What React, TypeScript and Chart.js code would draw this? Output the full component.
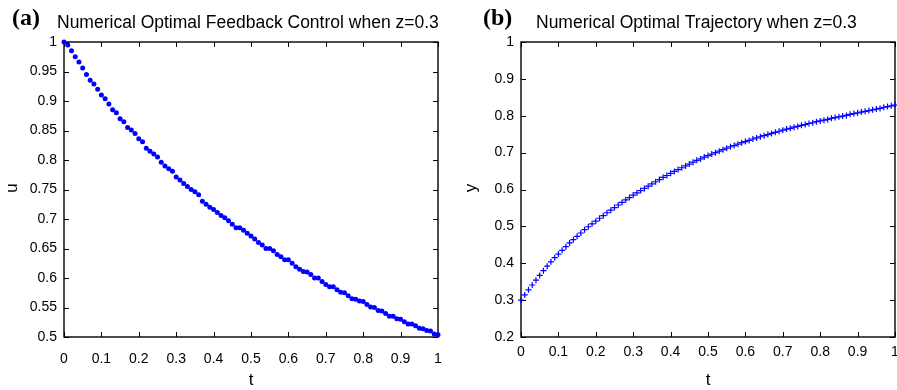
import React, { useEffect, useRef } from "react";
import { Chart, registerables } from "chart.js";

Chart.register(...registerables);

// ---------- data ----------
const tValues = [
  0, 0.01, 0.02, 0.03, 0.04, 0.05, 0.06, 0.07, 0.08, 0.09,
  0.1, 0.11, 0.12, 0.13, 0.14, 0.15, 0.16, 0.17, 0.18, 0.19,
  0.2, 0.21, 0.22, 0.23, 0.24, 0.25, 0.26, 0.27, 0.28, 0.29,
  0.3, 0.31, 0.32, 0.33, 0.34, 0.35, 0.36, 0.37, 0.38, 0.39,
  0.4, 0.41, 0.42, 0.43, 0.44, 0.45, 0.46, 0.47, 0.48, 0.49,
  0.5, 0.51, 0.52, 0.53, 0.54, 0.55, 0.56, 0.57, 0.58, 0.59,
  0.6, 0.61, 0.62, 0.63, 0.64, 0.65, 0.66, 0.67, 0.68, 0.69,
  0.7, 0.71, 0.72, 0.73, 0.74, 0.75, 0.76, 0.77, 0.78, 0.79,
  0.8, 0.81, 0.82, 0.83, 0.84, 0.85, 0.86, 0.87, 0.88, 0.89,
  0.9, 0.91, 0.92, 0.93, 0.94, 0.95, 0.96, 0.97, 0.98, 0.99,
  1.0,
];

const controlU = [
  1.0, 0.995, 0.985, 0.975, 0.966, 0.956, 0.945, 0.935, 0.929, 0.92,
  0.91, 0.904, 0.895, 0.885, 0.88, 0.87, 0.865, 0.855, 0.851, 0.845,
  0.836, 0.831, 0.82, 0.815, 0.81, 0.805, 0.796, 0.79, 0.785, 0.781,
  0.771, 0.766, 0.76, 0.755, 0.75, 0.746, 0.741, 0.73, 0.725, 0.72,
  0.716, 0.711, 0.706, 0.702, 0.697, 0.691, 0.685, 0.685, 0.681, 0.676,
  0.671, 0.666, 0.66, 0.656, 0.65, 0.65, 0.646, 0.64, 0.636, 0.631,
  0.631, 0.625, 0.619, 0.615, 0.611, 0.61, 0.606, 0.6, 0.6, 0.594,
  0.589, 0.585, 0.585, 0.58, 0.576, 0.575, 0.57, 0.565, 0.564, 0.561,
  0.56, 0.555, 0.551, 0.55, 0.545, 0.544, 0.54, 0.535, 0.535, 0.531,
  0.53, 0.526, 0.522, 0.522, 0.519, 0.515, 0.514, 0.511, 0.51, 0.505,
  0.504,
];

const trajectoryY = [
  0.3, 0.314, 0.328, 0.341, 0.354, 0.367, 0.38, 0.392, 0.404, 0.415,
  0.425, 0.435, 0.445, 0.455, 0.464, 0.473, 0.482, 0.491, 0.499, 0.507,
  0.514, 0.522, 0.529, 0.537, 0.544, 0.551, 0.558, 0.565, 0.572, 0.578,
  0.585, 0.591, 0.597, 0.603, 0.609, 0.615, 0.621, 0.627, 0.633, 0.638,
  0.644, 0.649, 0.654, 0.659, 0.664, 0.669, 0.674, 0.679, 0.683, 0.688,
  0.692, 0.696, 0.7, 0.704, 0.708, 0.712, 0.716, 0.719, 0.723, 0.727,
  0.73, 0.733, 0.737, 0.74, 0.743, 0.746, 0.749, 0.752, 0.755, 0.758,
  0.761, 0.764, 0.766, 0.769, 0.771, 0.774, 0.776, 0.779, 0.781, 0.784,
  0.786, 0.788, 0.79, 0.793, 0.795, 0.797, 0.799, 0.801, 0.804, 0.806,
  0.808, 0.81, 0.812, 0.814, 0.816, 0.818, 0.82, 0.823, 0.825, 0.827,
  0.829,
];

const tTicks = [0, 0.1, 0.2, 0.3, 0.4, 0.5, 0.6, 0.7, 0.8, 0.9, 1];
const uTicks = [0.5, 0.55, 0.6, 0.65, 0.7, 0.75, 0.8, 0.85, 0.9, 0.95, 1];
const yTicks = [0.2, 0.3, 0.4, 0.5, 0.6, 0.7, 0.8, 0.9, 1];

const leftTitle = "Numerical Optimal Feedback Control when z=0.3";
const rightTitle = "Numerical Optimal Trajectory when z=0.3";

// ---------- plugins ----------
const boxPlugin = {
  id: "matlabBox",
  beforeDatasetsDraw(chart: any) {
    const { ctx, chartArea: a, scales } = chart;
    ctx.save();
    ctx.strokeStyle = "#000";
    ctx.lineWidth = 1.4;
    ctx.strokeRect(a.left, a.top, a.right - a.left, a.bottom - a.top);
    const L = 5;
    ctx.lineWidth = 1;
    ctx.beginPath();
    scales.x.ticks.forEach((t: any) => {
      const px = Math.round(scales.x.getPixelForValue(t.value)) + 0.5;
      ctx.moveTo(px, a.bottom);
      ctx.lineTo(px, a.bottom - L);
      ctx.moveTo(px, a.top);
      ctx.lineTo(px, a.top + L);
    });
    scales.y.ticks.forEach((t: any) => {
      const py = Math.round(scales.y.getPixelForValue(t.value)) + 0.5;
      ctx.moveTo(a.left, py);
      ctx.lineTo(a.left + L, py);
      ctx.moveTo(a.right, py);
      ctx.lineTo(a.right - L, py);
    });
    ctx.stroke();
    ctx.restore();
  },
};

const textPlugin = {
  id: "panelTexts",
  afterDraw(chart: any, _args: any, opts: any) {
    const { ctx } = chart;
    ctx.save();
    ctx.fillStyle = "#000";
    ctx.font = "bold 24px 'Liberation Serif'";
    ctx.textAlign = "left";
    ctx.textBaseline = "alphabetic";
    ctx.fillText(opts.label, opts.labelX, opts.labelY);
    ctx.font = "17.5px 'Liberation Sans'";
    ctx.fillText(opts.title, opts.titleX, opts.titleY);
    ctx.font = "17px 'Liberation Sans'";
    ctx.textAlign = "center";
    ctx.textBaseline = "middle";
    ctx.fillText(opts.xTitle, opts.xTitleX, opts.xTitleY);
    ctx.save();
    ctx.translate(opts.yTitleX, opts.yTitleY);
    ctx.rotate(-Math.PI / 2);
    ctx.fillText(opts.yTitle, 0, 0);
    ctx.restore();
    ctx.restore();
  },
};

const fmt = (v: number) => String(Number(v.toFixed(2)));

function makeConfig(p: {
  values: number[];
  yTickList: number[];
  yMin: number;
  yMax: number;
  yWidth: number;
  rightPad: number;
  xLabelPad: number;
  pointStyle: string;
  radius: number;
  texts: any;
}) {
  return {
    type: "scatter" as const,
    data: {
      datasets: [
        {
          data: tValues.map((t, i) => ({ x: t, y: p.values[i] })),
          showLine: false,
          pointStyle: p.pointStyle,
          pointRadius: p.radius,
          pointHoverRadius: p.radius,
          backgroundColor: "rgb(0,0,255)",
          borderColor: "rgb(0,0,255)",
          borderWidth: p.pointStyle === "cross" ? 1.2 : 0,
          clip: false,
        },
      ],
    },
    options: {
      responsive: false,
      animation: false,
      layout: { padding: { left: 0, right: p.rightPad, top: 42, bottom: 0 } },
      plugins: {
        legend: { display: false },
        tooltip: { enabled: false },
        title: { display: false },
        panelTexts: p.texts,
      },
      scales: {
        x: {
          type: "linear",
          min: 0,
          max: 1,
          grid: { display: false, drawTicks: false },
          border: { display: false },
          afterBuildTicks: (s: any) => {
            s.ticks = tTicks.map((v) => ({ value: v }));
          },
          afterFit: (s: any) => {
            s.height = 53;
          },
          ticks: {
            autoSkip: false,
            maxRotation: 0,
            padding: p.xLabelPad,
            color: "#000",
            font: { family: "'Liberation Sans'", size: 14 },
            callback: (v: any) => fmt(Number(v)),
          },
        },
        y: {
          type: "linear",
          min: p.yMin,
          max: p.yMax,
          grid: { display: false, drawTicks: false },
          border: { display: false },
          afterBuildTicks: (s: any) => {
            s.ticks = p.yTickList.map((v) => ({ value: v }));
          },
          afterFit: (s: any) => {
            s.width = p.yWidth;
          },
          ticks: {
            autoSkip: false,
            padding: 7,
            color: "#000",
            font: { family: "'Liberation Sans'", size: 14 },
            callback: (v: any) => fmt(Number(v)),
          },
        },
      },
    },
    plugins: [boxPlugin, textPlugin],
  };
}

function Panel(props: { left: number; config: any }) {
  const ref = useRef<HTMLCanvasElement | null>(null);
  useEffect(() => {
    if (!ref.current) return;
    const chart = new Chart(ref.current, props.config);
    return () => chart.destroy();
  }, []);
  return (
    <canvas
      ref={ref}
      width={460}
      height={390}
      style={{ position: "absolute", left: props.left, top: 0, width: 460, height: 390, display: "block" }}
    />
  );
}

export default function App() {
  const leftConfig = makeConfig({
    values: controlU,
    yTickList: uTicks,
    yMin: 0.5,
    yMax: 1,
    yWidth: 64,
    rightPad: 22,
    xLabelPad: 14,
    pointStyle: "circle",
    radius: 2.5,
    texts: {
      label: "(a)",
      labelX: 12,
      labelY: 25,
      title: leftTitle,
      titleX: 57,
      titleY: 28,
      xTitle: "t",
      xTitleX: 251,
      xTitleY: 380,
      yTitle: "u",
      yTitleX: 12,
      yTitleY: 188,
    },
  });
  const rightConfig = makeConfig({
    values: trajectoryY,
    yTickList: yTicks,
    yMin: 0.2,
    yMax: 1,
    yWidth: 61,
    rightPad: 25,
    xLabelPad: 7,
    pointStyle: "cross",
    radius: 3,
    texts: {
      label: "(b)",
      labelX: 23,
      labelY: 25,
      title: rightTitle,
      titleX: 76,
      titleY: 28,
      xTitle: "t",
      xTitleX: 248,
      xTitleY: 380,
      yTitle: "y",
      yTitleX: 11,
      yTitleY: 188,
    },
  });
  return (
    <div
      style={{
        position: "fixed",
        left: 0,
        top: 0,
        width: 897,
        height: 390,
        overflow: "hidden",
        background: "#fff",
      }}
    >
      <Panel left={0} config={leftConfig} />
      <Panel left={460} config={rightConfig} />
    </div>
  );
}
